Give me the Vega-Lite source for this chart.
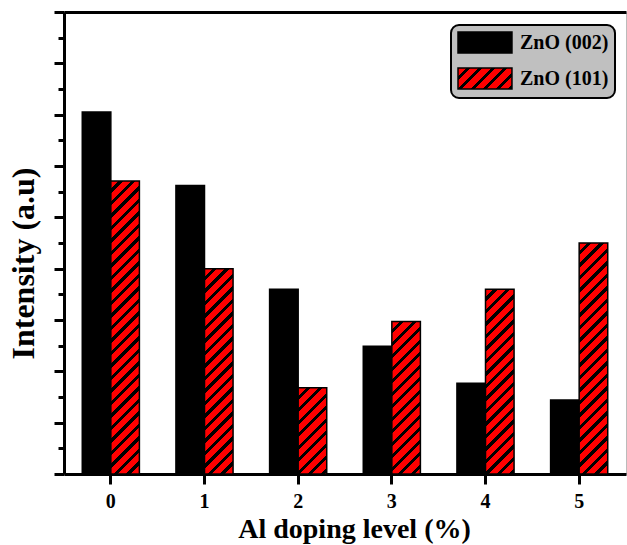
{
  "$schema": "https://vega.github.io/schema/vega-lite/v6.json",
  "width": 562,
  "height": 462,
  "autosize": {"type": "none"},
  "padding": {"left": 64, "top": 12, "right": 1, "bottom": 71},
  "params": [
    {"name": "stripes", "value": [
      {"offset": 0, "color": "red"}, {"offset": 0.0236, "color": "red"}, {"offset": 0.0236, "color": "black"}, {"offset": 0.0357, "color": "black"},
      {"offset": 0.0357, "color": "red"}, {"offset": 0.0593, "color": "red"}, {"offset": 0.0593, "color": "black"}, {"offset": 0.0714, "color": "black"},
      {"offset": 0.0714, "color": "red"}, {"offset": 0.0950, "color": "red"}, {"offset": 0.0950, "color": "black"}, {"offset": 0.1071, "color": "black"},
      {"offset": 0.1071, "color": "red"}, {"offset": 0.1307, "color": "red"}, {"offset": 0.1307, "color": "black"}, {"offset": 0.1429, "color": "black"},
      {"offset": 0.1429, "color": "red"}, {"offset": 0.1664, "color": "red"}, {"offset": 0.1664, "color": "black"}, {"offset": 0.1786, "color": "black"},
      {"offset": 0.1786, "color": "red"}, {"offset": 0.2021, "color": "red"}, {"offset": 0.2021, "color": "black"}, {"offset": 0.2143, "color": "black"},
      {"offset": 0.2143, "color": "red"}, {"offset": 0.2379, "color": "red"}, {"offset": 0.2379, "color": "black"}, {"offset": 0.25, "color": "black"},
      {"offset": 0.25, "color": "red"}, {"offset": 0.2736, "color": "red"}, {"offset": 0.2736, "color": "black"}, {"offset": 0.2857, "color": "black"},
      {"offset": 0.2857, "color": "red"}, {"offset": 0.3093, "color": "red"}, {"offset": 0.3093, "color": "black"}, {"offset": 0.3214, "color": "black"},
      {"offset": 0.3214, "color": "red"}, {"offset": 0.3450, "color": "red"}, {"offset": 0.3450, "color": "black"}, {"offset": 0.3571, "color": "black"},
      {"offset": 0.3571, "color": "red"}, {"offset": 0.3807, "color": "red"}, {"offset": 0.3807, "color": "black"}, {"offset": 0.3929, "color": "black"},
      {"offset": 0.3929, "color": "red"}, {"offset": 0.4164, "color": "red"}, {"offset": 0.4164, "color": "black"}, {"offset": 0.4286, "color": "black"},
      {"offset": 0.4286, "color": "red"}, {"offset": 0.4521, "color": "red"}, {"offset": 0.4521, "color": "black"}, {"offset": 0.4643, "color": "black"},
      {"offset": 0.4643, "color": "red"}, {"offset": 0.4879, "color": "red"}, {"offset": 0.4879, "color": "black"}, {"offset": 0.5, "color": "black"},
      {"offset": 0.5, "color": "red"}, {"offset": 0.5236, "color": "red"}, {"offset": 0.5236, "color": "black"}, {"offset": 0.5357, "color": "black"},
      {"offset": 0.5357, "color": "red"}, {"offset": 0.5593, "color": "red"}, {"offset": 0.5593, "color": "black"}, {"offset": 0.5714, "color": "black"},
      {"offset": 0.5714, "color": "red"}, {"offset": 0.5950, "color": "red"}, {"offset": 0.5950, "color": "black"}, {"offset": 0.6071, "color": "black"},
      {"offset": 0.6071, "color": "red"}, {"offset": 0.6307, "color": "red"}, {"offset": 0.6307, "color": "black"}, {"offset": 0.6429, "color": "black"},
      {"offset": 0.6429, "color": "red"}, {"offset": 0.6664, "color": "red"}, {"offset": 0.6664, "color": "black"}, {"offset": 0.6786, "color": "black"},
      {"offset": 0.6786, "color": "red"}, {"offset": 0.7021, "color": "red"}, {"offset": 0.7021, "color": "black"}, {"offset": 0.7143, "color": "black"},
      {"offset": 0.7143, "color": "red"}, {"offset": 0.7379, "color": "red"}, {"offset": 0.7379, "color": "black"}, {"offset": 0.75, "color": "black"},
      {"offset": 0.75, "color": "red"}, {"offset": 0.7736, "color": "red"}, {"offset": 0.7736, "color": "black"}, {"offset": 0.7857, "color": "black"},
      {"offset": 0.7857, "color": "red"}, {"offset": 0.8093, "color": "red"}, {"offset": 0.8093, "color": "black"}, {"offset": 0.8214, "color": "black"},
      {"offset": 0.8214, "color": "red"}, {"offset": 0.8450, "color": "red"}, {"offset": 0.8450, "color": "black"}, {"offset": 0.8571, "color": "black"},
      {"offset": 0.8571, "color": "red"}, {"offset": 0.8807, "color": "red"}, {"offset": 0.8807, "color": "black"}, {"offset": 0.8929, "color": "black"},
      {"offset": 0.8929, "color": "red"}, {"offset": 0.9164, "color": "red"}, {"offset": 0.9164, "color": "black"}, {"offset": 0.9286, "color": "black"},
      {"offset": 0.9286, "color": "red"}, {"offset": 0.9521, "color": "red"}, {"offset": 0.9521, "color": "black"}, {"offset": 0.9643, "color": "black"},
      {"offset": 0.9643, "color": "red"}, {"offset": 0.9879, "color": "red"}, {"offset": 0.9879, "color": "black"}, {"offset": 1, "color": "black"}
    ]}
  ],
  "data": {"values": [
    {"level": "0", "series": "ZnO (002)", "value": 7.05},
    {"level": "0", "series": "ZnO (101)", "value": 5.71},
    {"level": "1", "series": "ZnO (002)", "value": 5.62},
    {"level": "1", "series": "ZnO (101)", "value": 4.00},
    {"level": "2", "series": "ZnO (002)", "value": 3.60},
    {"level": "2", "series": "ZnO (101)", "value": 1.68},
    {"level": "3", "series": "ZnO (002)", "value": 2.49},
    {"level": "3", "series": "ZnO (101)", "value": 2.97},
    {"level": "4", "series": "ZnO (002)", "value": 1.77},
    {"level": "4", "series": "ZnO (101)", "value": 3.60},
    {"level": "5", "series": "ZnO (002)", "value": 1.44},
    {"level": "5", "series": "ZnO (101)", "value": 4.50}
  ]},
  "config": {
    "view": {"stroke": "#bbbbbb", "strokeWidth": 1},
    "font": "Liberation Serif",
    "axis": {
      "domainColor": "black", "domainWidth": 3,
      "tickColor": "black", "tickWidth": 3,
      "grid": false, "labelColor": "black", "titleColor": "black"
    }
  },
  "resolve": {"axis": {"x": "independent", "y": "independent"}},
  "layer": [
    {
      "transform": [{"filter": "datum.series === 'ZnO (002)'"}],
      "mark": {"type": "bar", "stroke": "black", "strokeWidth": 1.5},
      "encoding": {
        "x": {
          "field": "level", "type": "nominal",
          "scale": {"paddingInner": 0.39, "paddingOuter": 0.195},
          "axis": {
            "orient": "bottom", "labelAngle": 0, "labelFontSize": 20, "labelFontWeight": "bold",
            "tickSize": 10, "labelPadding": 7,
            "title": "Al doping level (%)", "titleFontSize": 28, "titleFontWeight": "bold",
            "titleX": 290, "titleY": 63, "titleBaseline": "alphabetic"
          }
        },
        "xOffset": {
          "field": "series", "type": "nominal",
          "scale": {"domain": ["ZnO (002)", "ZnO (101)"], "paddingInner": 0, "paddingOuter": 0}
        },
        "y": {
          "field": "value", "type": "quantitative",
          "scale": {"domain": [0, 9], "nice": false},
          "axis": {
            "orient": "left", "values": [0, 1, 2, 3, 4, 5, 6, 7, 8, 9],
            "labels": false, "tickSize": 10,
            "title": "Intensity (a.u)", "titleFontSize": 32, "titleFontWeight": "bold",
            "titleX": -31, "titleY": 251, "titleBaseline": "alphabetic", "titleAngle": -90
          }
        },
        "color": {
          "field": "series", "type": "nominal",
          "scale": {
            "domain": ["ZnO (002)", "ZnO (101)"],
            "range": ["black", {"expr": "{gradient: 'linear', x1: 0, y1: 0, x2: 5.63, y2: 2.19, stops: stripes}"}]
          },
          "legend": {
            "orient": "none", "legendX": 387, "legendY": 13, "title": null,
            "symbolType": "M-1,-1H4.14V1H-1Z", "symbolSize": 441,
            "symbolStrokeColor": "black", "symbolStrokeWidth": 1.5, "symbolOpacity": 1,
            "labelFontSize": 20, "labelFontWeight": "bold", "labelColor": "black",
            "labelOffset": 40, "rowPadding": 9, "padding": 6,
            "fillColor": "#c0c0c0", "strokeColor": "black", "cornerRadius": 8,
            "encode": {
              "legend": {"update": {"strokeWidth": {"value": 2}}}
            }
          }
        }
      }
    },
    {
      "transform": [{"filter": "datum.series === 'ZnO (101)'"}],
      "mark": {
        "type": "bar", "stroke": "black", "strokeWidth": 1.5,
        "fill": {"expr": "{gradient: 'linear', x1: 0, y1: 0, x2: 350*bandwidth('xOffset')/(pow(bandwidth('xOffset'),2)+pow(scale('y',0)-scale('y',datum.value),2)), y2: 350*(scale('y',0)-scale('y',datum.value))/(pow(bandwidth('xOffset'),2)+pow(scale('y',0)-scale('y',datum.value),2)), stops: stripes}"}
      },
      "encoding": {
        "x": {
          "field": "level", "type": "nominal",
          "axis": {"orient": "top", "ticks": false, "labels": false, "title": null, "domainWidth": 3}
        },
        "xOffset": {"field": "series", "type": "nominal"},
        "y": {
          "field": "value", "type": "quantitative",
          "axis": {
            "orient": "left", "values": [0.5, 1.5, 2.5, 3.5, 4.5, 5.5, 6.5, 7.5, 8.5],
            "labels": false, "domain": false, "tickSize": 6, "title": null
          }
        }
      }
    }
  ]
}
